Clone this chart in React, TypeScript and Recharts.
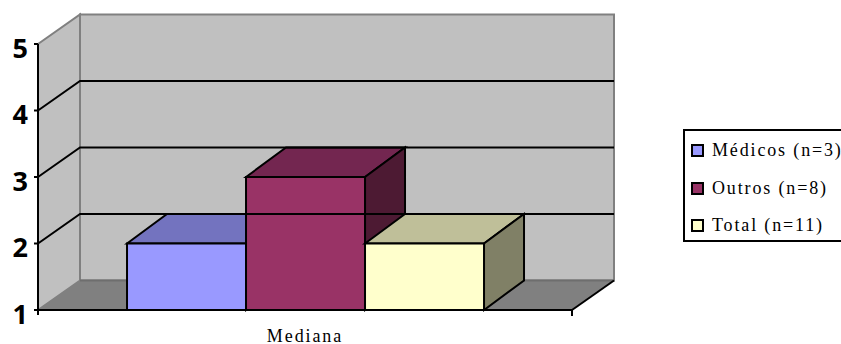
import { Bar, BarChart, Legend, ReferenceArea, ReferenceLine, XAxis, YAxis } from "recharts";

const categories = ["Mediana"];
const seriesNames = ["Médicos (n=3)", "Outros (n=8)", "Total (n=11)"];
const seriesValues = [[2], [3], [2]];
const seriesFront = ["#9999FF", "#993366", "#FFFFCC"];
const seriesTop = ["#7373BF", "#732650", "#BFBF99"];
const seriesSide = ["#4D4D80", "#4D1A33", "#808066"];
const yTicks = [1, 2, 3, 4, 5];
const gridValues = [2, 3, 4];

const tableData = categories.map((name, i) => {
    const row: any = { name };
    seriesNames.forEach((s, j) => {
        row[s] = seriesValues[j][i];
    });
    return row;
});

// offset of the back wall from the front plane
const DX = 42;
const DY = -29.5;
// the boxes are a little shallower than the walls
const BAR_DX = 40;

const Walls = ({ x, y, width, height }: any) => {
    const bottom = y + height;
    return (
        <g>
            <polygon
                points={`${x + DX},${y + DY} ${x + width + DX},${y + DY} ${x + width + DX},${bottom + DY} ${x + DX},${bottom + DY}`}
                fill="#C0C0C0"
                stroke="#808080"
                strokeWidth={2}
            />
            <polygon
                points={`${x},${y} ${x + DX},${y + DY} ${x + DX},${bottom + DY} ${x},${bottom}`}
                fill="#C0C0C0"
                stroke="#808080"
                strokeWidth={2}
            />
            <polygon
                points={`${x},${bottom} ${x + DX},${bottom + DY} ${x + width + DX},${bottom + DY} ${x + width},${bottom}`}
                fill="#808080"
                stroke="none"
            />
            <line x1={x + DX} y1={bottom + DY} x2={x + width + DX} y2={bottom + DY} stroke="#6E6E6E" strokeWidth={2} />
            <line x1={x + width} y1={bottom} x2={x + width + DX} y2={bottom + DY} stroke="#000" strokeWidth={2} />
            <line x1={x + width} y1={bottom} x2={x + width} y2={bottom + 6} stroke="#000" strokeWidth={2} />
            <line x1={x} y1={bottom} x2={x} y2={bottom + 5} stroke="#000" strokeWidth={2} />
        </g>
    );
};

// gridline runs up the side wall, then across the back wall
const WallGridLine = ({ x1, y1, x2 }: any) => (
    <polyline
        points={`${x1},${y1} ${x1 + DX},${y1 + DY} ${x2 + DX},${y1 + DY}`}
        fill="none"
        stroke="#000"
        strokeWidth={2}
    />
);

const boxShape = (index: number) => ({ x, y, width, height }: any) => {
    const right = x + width;
    const bottom = y + height;
    return (
        <g stroke="#000" strokeWidth={2} strokeLinejoin="miter">
            <polygon
                points={`${x},${y} ${x + BAR_DX},${y + DY} ${right + BAR_DX},${y + DY} ${right},${y}`}
                fill={seriesTop[index]}
            />
            <polygon
                points={`${right},${y} ${right + BAR_DX},${y + DY} ${right + BAR_DX},${bottom + DY} ${right},${bottom}`}
                fill={seriesSide[index]}
            />
            <rect x={x} y={y} width={width} height={height} fill={seriesFront[index]} />
        </g>
    );
};

const LegendBox = () => (
    <div
        style={{
            width: 170,
            height: 113,
            boxSizing: "border-box",
            border: "2px solid #000",
            background: "#fff",
            fontFamily: "'Liberation Serif', serif",
            fontSize: 18,
            letterSpacing: 1.85,
            color: "#000",
            whiteSpace: "nowrap",
            paddingTop: 1,
        }}
    >
        {seriesNames.map((name, i) => (
            <div key={name} style={{ height: 37.5, display: "flex", alignItems: "center", paddingLeft: 6 }}>
                <span
                    style={{
                        width: 9,
                        height: 9,
                        border: "2px solid #000",
                        background: seriesFront[i],
                        marginRight: 8,
                        flex: "none",
                        boxSizing: "content-box",
                    }}
                />
                {name}
            </div>
        ))}
    </div>
);

export default function App() {
    return (
        <div style={{ position: "fixed", left: 0, top: 0, width: 841, height: 344, overflow: "hidden", background: "#fff" }}>
            <BarChart
                width={841}
                height={344}
                data={tableData}
                margin={{ top: 44, right: 269, bottom: 0, left: 0 }}
                barCategoryGap="16.67%"
                barGap={0}
            >
                <XAxis
                    dataKey="name"
                    height={34}
                    axisLine={{ stroke: "#000", strokeWidth: 2 }}
                    tickLine={false}
                    tick={{ fill: "#000", fontSize: 18, fontFamily: "'Liberation Serif', serif", letterSpacing: 1.9 }}
                    tickMargin={13}
                />
                <YAxis
                    type="number"
                    domain={[1, 5]}
                    ticks={yTicks}
                    width={38}
                    interval={0}
                    axisLine={{ stroke: "#000", strokeWidth: 2 }}
                    tickLine={{ stroke: "#000", strokeWidth: 2 }}
                    tickSize={4}
                    tick={{ fill: "#000", fontSize: 27, fontWeight: 700, fontFamily: "'Open Sans', sans-serif", dy: 4 }}
                    tickMargin={6}
                />
                <ReferenceArea y1={1} y2={5} shape={Walls} ifOverflow="visible" />
                {gridValues.map((v) => (
                    <ReferenceLine key={v} y={v} shape={WallGridLine} />
                ))}
                <Legend
                    layout="vertical"
                    align="center"
                    verticalAlign="middle"
                    content={<LegendBox />}
                    wrapperStyle={{ left: 683, top: 129, width: 170 }}
                />
                {seriesNames.map((name, i) => (
                    <Bar key={name} dataKey={name} fill={seriesFront[i]} shape={boxShape(i)} isAnimationActive={false} />
                ))}
            </BarChart>
        </div>
    );
}
